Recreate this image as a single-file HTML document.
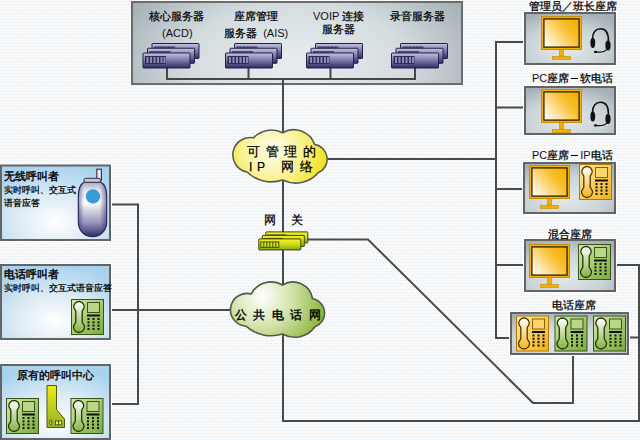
<!DOCTYPE html>
<html><head><meta charset="utf-8">
<style>
html,body{margin:0;padding:0;}
body{width:640px;height:440px;overflow:hidden;position:relative;background:#f6f9fb;font-family:"Liberation Sans",sans-serif;color:#111;}
svg.main{position:absolute;left:0;top:0;}
.t{position:absolute;white-space:nowrap;line-height:1;font-size:11px;font-weight:normal;color:#000;-webkit-text-stroke:0.25px #000;}
.n{font-weight:normal;-webkit-text-stroke:0;color:#111;}
</style></head><body>
<svg class="main" width="640" height="440" viewBox="0 0 640 440">
<defs>
  <pattern id="dots" width="3" height="6" patternUnits="userSpaceOnUse">
    <rect width="3" height="6" fill="#f9f9fa"/>
    <rect x="1" y="1" width="1" height="1" fill="#d6eaf7"/>
    <rect x="2" y="4" width="1" height="1" fill="#d6eaf7"/>
  </pattern>
  <radialGradient id="gPanel" cx="0.5" cy="0.75" r="0.6" gradientTransform="translate(0.5 0.75) scale(1 2.2) translate(-0.5 -0.75)">
    <stop offset="0" stop-color="#e8eef0"/>
    <stop offset="0.55" stop-color="#d4dce0"/>
    <stop offset="1" stop-color="#a3afb5"/>
  </radialGradient>
  <radialGradient id="gBox" cx="0.45" cy="0.7" r="0.75">
    <stop offset="0" stop-color="#e4eaec"/>
    <stop offset="0.6" stop-color="#c9d2d6"/>
    <stop offset="1" stop-color="#a4b0b6"/>
  </radialGradient>
  <radialGradient id="gBlue" cx="0.5" cy="0.75" r="0.75">
    <stop offset="0" stop-color="#ffffff"/>
    <stop offset="0.5" stop-color="#daeaf4"/>
    <stop offset="1" stop-color="#a9d2ee"/>
  </radialGradient>
  <linearGradient id="gSrv" x1="0" y1="0" x2="0" y2="1">
    <stop offset="0" stop-color="#c8c8e0"/>
    <stop offset="0.2" stop-color="#a6a4c8"/>
    <stop offset="0.6" stop-color="#6a6898"/>
    <stop offset="1" stop-color="#2c2a62"/>
  </linearGradient>
  <linearGradient id="gGw" x1="0" y1="0" x2="0" y2="1">
    <stop offset="0" stop-color="#f6f230"/>
    <stop offset="0.45" stop-color="#d8de14"/>
    <stop offset="1" stop-color="#84aa0c"/>
  </linearGradient>
  <radialGradient id="gCloudY" gradientUnits="userSpaceOnUse" cx="272" cy="150" r="58">
    <stop offset="0" stop-color="#fdfdf0"/>
    <stop offset="0.45" stop-color="#faf4a0"/>
    <stop offset="1" stop-color="#eee010"/>
  </radialGradient>
  <radialGradient id="gCloudG" gradientUnits="userSpaceOnUse" cx="262" cy="297" r="66">
    <stop offset="0" stop-color="#ffffff"/>
    <stop offset="0.45" stop-color="#d4e4ac"/>
    <stop offset="1" stop-color="#8ab030"/>
  </radialGradient>
  <linearGradient id="gScreen" x1="0" y1="0.85" x2="1" y2="0.15">
    <stop offset="0" stop-color="#fffcf2"/>
    <stop offset="0.28" stop-color="#fde2a0"/>
    <stop offset="0.65" stop-color="#f8c030"/>
    <stop offset="1" stop-color="#f4b000"/>
  </linearGradient>
  <linearGradient id="gPhG" x1="0" y1="0" x2="1" y2="1">
    <stop offset="0" stop-color="#d6eaa8"/>
    <stop offset="1" stop-color="#78ac38"/>
  </linearGradient>
  <linearGradient id="gPhO" x1="0" y1="0" x2="1" y2="1">
    <stop offset="0" stop-color="#ffeaa0"/>
    <stop offset="1" stop-color="#f2b01c"/>
  </linearGradient>
  <linearGradient id="gHand" x1="0" y1="0" x2="0" y2="1">
    <stop offset="0" stop-color="#ffffff"/>
    <stop offset="1" stop-color="#84b440"/>
  </linearGradient>
  <linearGradient id="gHandO" x1="0" y1="0" x2="0" y2="1">
    <stop offset="0" stop-color="#ffffff"/>
    <stop offset="1" stop-color="#f2b41c"/>
  </linearGradient>
  <linearGradient id="gCard" x1="0" y1="0" x2="0" y2="1">
    <stop offset="0" stop-color="#eeea10"/>
    <stop offset="1" stop-color="#94b42a"/>
  </linearGradient>
  <linearGradient id="gMobV" x1="0" y1="0" x2="0" y2="1">
    <stop offset="0" stop-color="#a8a8c4"/>
    <stop offset="0.15" stop-color="#e4e4ee"/>
    <stop offset="0.38" stop-color="#ffffff"/>
    <stop offset="0.52" stop-color="#d4d4e2"/>
    <stop offset="0.75" stop-color="#9492bc"/>
    <stop offset="1" stop-color="#2c2a66"/>
  </linearGradient>
  <linearGradient id="gMobH" x1="0" y1="0" x2="1" y2="0">
    <stop offset="0" stop-color="#302e70" stop-opacity="0.55"/>
    <stop offset="0.2" stop-color="#302e70" stop-opacity="0"/>
    <stop offset="0.75" stop-color="#302e70" stop-opacity="0"/>
    <stop offset="1" stop-color="#302e70" stop-opacity="0.6"/>
  </linearGradient>
  

  <g id="srv">
    <rect x="0.5" y="0.5" width="47" height="15" rx="0.6" fill="url(#gSrv)" stroke="#22204a" stroke-width="1"/>
    <rect x="2.5" y="3.5" width="21" height="8" fill="#2e2c5c"/>
    <rect x="4" y="4.5" width="2" height="6" fill="#8c8ab4"/>
    <rect x="7.5" y="4.5" width="2" height="6" fill="#8c8ab4"/>
    <rect x="11" y="4.5" width="2" height="6" fill="#8c8ab4"/>
    <rect x="14.5" y="4.5" width="2" height="6" fill="#8c8ab4"/>
    <rect x="18" y="4.5" width="2" height="6" fill="#8c8ab4"/>
    <rect x="21" y="4.5" width="2" height="6" fill="#8c8ab4"/>
  </g>
  <g id="srvs">
    <use href="#srv" x="9" y="-9.5"/>
    <use href="#srv" x="4.5" y="-4.75"/>
    <use href="#srv" x="0" y="0"/>
  </g>
  <g id="gw">
    <rect x="0.5" y="0.5" width="42" height="11" rx="0.5" fill="url(#gGw)" stroke="#3c4600" stroke-width="1"/>
    <rect x="2" y="3" width="19" height="6.5" fill="#4a5400"/>
    <rect x="3" y="4" width="2" height="4.5" fill="#d0dc30"/>
    <rect x="6" y="4" width="2" height="4.5" fill="#d0dc30"/>
    <rect x="9" y="4" width="2" height="4.5" fill="#d0dc30"/>
    <rect x="12" y="4" width="2" height="4.5" fill="#d0dc30"/>
    <rect x="15" y="4" width="2" height="4.5" fill="#d0dc30"/>
    <rect x="18" y="4" width="2" height="4.5" fill="#d0dc30"/>
  </g>

  <!-- green desk phone 33x35 -->
  <g id="phG">
    <rect x="0.5" y="0.5" width="32" height="35" fill="url(#gPhG)" stroke="#3c5020" stroke-width="1"/>
    <path d="M8 2.5 a5.2 5.2 0 0 1 5.2 5.2 c0 2.2 -1.6 3 -2 4.5 v11 c0.4 1.5 2.3 2.5 2.3 4.8 a5.5 5.5 0 0 1 -11 0 c0 -2.3 1.9 -3.3 2.3 -4.8 v-11 c-0.4 -1.5 -2 -2.3 -2 -4.5 a5.2 5.2 0 0 1 5.2 -5.2z" fill="url(#gHand)" stroke="#26340c" stroke-width="1.3"/>
    <rect x="16.5" y="3.5" width="12" height="10" fill="#b8d888" stroke="#3c5020" stroke-width="1"/>
    <rect x="16" y="15.5" width="13" height="2" fill="#111"/>
    <g fill="#111">
      <rect x="16.5" y="19" width="2" height="2"/><rect x="21.5" y="19" width="2" height="2"/><rect x="26.5" y="19" width="2" height="2"/>
      <rect x="16.5" y="22.3" width="2" height="2"/><rect x="21.5" y="22.3" width="2" height="2"/><rect x="26.5" y="22.3" width="2" height="2"/>
      <rect x="16.5" y="25.6" width="2" height="2"/><rect x="21.5" y="25.6" width="2" height="2"/><rect x="26.5" y="25.6" width="2" height="2"/>
      <rect x="16.5" y="29" width="2" height="2"/><rect x="21.5" y="29" width="2" height="2"/><rect x="26.5" y="29" width="2" height="2"/>
    </g>
  </g>
  <g id="phO">
    <rect x="0.5" y="0.5" width="32" height="35" fill="url(#gPhO)" stroke="#b07a00" stroke-width="1"/>
    <path d="M8 2.5 a5.2 5.2 0 0 1 5.2 5.2 c0 2.2 -1.6 3 -2 4.5 v11 c0.4 1.5 2.3 2.5 2.3 4.8 a5.5 5.5 0 0 1 -11 0 c0 -2.3 1.9 -3.3 2.3 -4.8 v-11 c-0.4 -1.5 -2 -2.3 -2 -4.5 a5.2 5.2 0 0 1 5.2 -5.2z" fill="url(#gHandO)" stroke="#503800" stroke-width="1.3"/>
    <rect x="16.5" y="3.5" width="12" height="10" fill="#fbd66a" stroke="#8a6000" stroke-width="1"/>
    <rect x="16" y="15.5" width="13" height="2" fill="#111"/>
    <g fill="#111">
      <rect x="16.5" y="19" width="2" height="2"/><rect x="21.5" y="19" width="2" height="2"/><rect x="26.5" y="19" width="2" height="2"/>
      <rect x="16.5" y="22.3" width="2" height="2"/><rect x="21.5" y="22.3" width="2" height="2"/><rect x="26.5" y="22.3" width="2" height="2"/>
      <rect x="16.5" y="25.6" width="2" height="2"/><rect x="21.5" y="25.6" width="2" height="2"/><rect x="26.5" y="25.6" width="2" height="2"/>
      <rect x="16.5" y="29" width="2" height="2"/><rect x="21.5" y="29" width="2" height="2"/><rect x="26.5" y="29" width="2" height="2"/>
    </g>
  </g>
  <!-- monitor 41 x 44 -->
  <g id="mon">
    <rect x="0.5" y="0.5" width="40" height="33" fill="#f5b200" stroke="#d08c00" stroke-width="1"/>
    <rect x="2.9" y="2.9" width="35.2" height="28.2" fill="url(#gScreen)" stroke="#2c1e00" stroke-width="1.3"/>
    <rect x="18.5" y="33.5" width="4" height="6.5" fill="#f4b000" stroke="#c88a00" stroke-width="0.6"/>
    <rect x="11.5" y="40.5" width="18" height="3" fill="#f4b000" stroke="#c88a00" stroke-width="0.6"/>
  </g>
  <g id="hs">
    <path d="M1.5 11 C1.5 4 5 0.8 9.5 0.8 C14 0.8 17.5 4.5 17.5 13" fill="none" stroke="#111" stroke-width="1.6"/>
    <ellipse cx="1.8" cy="15" rx="2.4" ry="5" fill="#111"/>
    <ellipse cx="17" cy="17.5" rx="2.6" ry="5" fill="#111"/>
    <path d="M15.5 21.5 C14 24 10 24.5 5 24" fill="none" stroke="#111" stroke-width="1.2"/>
    <ellipse cx="4.6" cy="23.9" rx="1.8" ry="1.2" fill="#111"/>
  </g>
</defs>

<rect width="640" height="440" fill="url(#dots)"/>

<!-- ===== lines ===== -->
<g fill="none" stroke="#4a4a4a" stroke-width="2">
  <path d="M167 66 V79 H415 V66"/>
  <path d="M248.5 66 V79"/>
  <path d="M330.5 66 V79"/>
  <path d="M283 79 V421 H640"/>
  <path d="M525 42 H496 V338 H512"/>
  <path d="M496 107.5 H525"/>
  <path d="M496 189 H524"/>
  <path d="M496 265 H525"/>
  <path d="M616 265 H639 V421"/>
  <path d="M627 337.5 H639"/>
  <path d="M320 159 H496"/>
  <path d="M300 239.5 H368 L533 403 H573 V353"/>
  <path d="M110 204.5 H138 V404 H109"/>
  <path d="M110 310 H240"/>
</g>

<!-- ===== top panel ===== -->
<rect x="132" y="2" width="330" height="82" fill="url(#gPanel)" stroke="#6c6c6c" stroke-width="2"/>
<path d="M167 66 V79 H415 V66 M248.5 66 V79 M330.5 66 V79 M283 79 V86" fill="none" stroke="#454545" stroke-width="2"/>
<use href="#srvs" x="142.5" y="52.5"/>
<use href="#srvs" x="225" y="52.5"/>
<use href="#srvs" x="306" y="52.5"/>
<use href="#srvs" x="391" y="52.5"/>

<!-- ===== right column boxes ===== -->
<rect x="525" y="13" width="90" height="51" fill="none" stroke="#ffffff" stroke-width="4"/>
<rect x="525" y="13" width="90" height="51" fill="url(#gBox)" stroke="#646464" stroke-width="2"/>
<use href="#mon" x="541" y="16"/>
<use href="#hs" transform="translate(591 28)"/>

<rect x="525" y="87" width="90" height="47" fill="none" stroke="#ffffff" stroke-width="4"/>
<rect x="525" y="87" width="90" height="47" fill="url(#gBox)" stroke="#646464" stroke-width="2"/>
<use href="#mon" x="541" y="89"/>
<use href="#hs" transform="translate(591 101.5)"/>

<rect x="524" y="163" width="91" height="50" fill="none" stroke="#ffffff" stroke-width="4"/>
<rect x="524" y="163" width="91" height="50" fill="url(#gBox)" stroke="#646464" stroke-width="2"/>
<use href="#mon" x="529" y="165"/>
<use href="#phO" x="579" y="164"/>

<rect x="525" y="240" width="90" height="51" fill="none" stroke="#ffffff" stroke-width="4"/>
<rect x="525" y="240" width="90" height="51" fill="url(#gBox)" stroke="#646464" stroke-width="2"/>
<use href="#mon" x="529" y="244"/>
<use href="#phG" x="578" y="244"/>

<rect x="511" y="313" width="117" height="41" fill="none" stroke="#ffffff" stroke-width="4"/>
<rect x="511" y="313" width="117" height="41" fill="url(#gBox)" stroke="#646464" stroke-width="2"/>
<use href="#phO" x="516" y="315.5"/>
<use href="#phG" x="554.5" y="315.5"/>
<use href="#phG" x="593" y="315.5"/>

<!-- ===== left boxes ===== -->
<rect x="1" y="165.5" width="109" height="74.5" fill="none" stroke="#ffffff" stroke-width="4"/>
<rect x="1" y="165.5" width="109" height="74.5" fill="url(#gBlue)" stroke="#646464" stroke-width="2"/>
<rect x="96.8" y="169.2" width="4.6" height="11" fill="#e4e4ec" stroke="#303040" stroke-width="1.1"/>
<rect x="98.6" y="170.5" width="1.2" height="8.5" fill="#ffffff"/>
<path d="M84.5 182 C80.5 184 78.3 189 78.3 196 V222.5 A14.2 14.2 0 0 0 106.7 222.5 V196 C106.7 189 104.5 184 100.5 182 Z" fill="url(#gMobV)" stroke="#22204a" stroke-width="1.1"/>
<path d="M84.5 182 C80.5 184 78.3 189 78.3 196 V222.5 A14.2 14.2 0 0 0 106.7 222.5 V196 C106.7 189 104.5 184 100.5 182 Z" fill="url(#gMobH)"/>
<rect x="84" y="178.3" width="16.5" height="4" rx="1.5" fill="#c4c4d4" stroke="#303048" stroke-width="1"/>
<circle cx="93" cy="196.5" r="7.2" fill="#3b9bd9"/>

<rect x="1" y="265" width="109" height="74" fill="none" stroke="#ffffff" stroke-width="4"/>
<rect x="1" y="265" width="109" height="74" fill="url(#gBlue)" stroke="#646464" stroke-width="2"/>
<use href="#phG" x="71" y="299"/>

<rect x="1" y="365" width="109" height="74" fill="none" stroke="#ffffff" stroke-width="4"/>
<rect x="1" y="365" width="109" height="74" fill="url(#gBlue)" stroke="#646464" stroke-width="2"/>
<use href="#phG" x="6" y="398"/>
<use href="#phG" x="70.5" y="398"/>
<path d="M47 385.5 H56.5 V409.5 L64.5 419 V427.5 H47Z" fill="url(#gCard)" stroke="#4a5a10" stroke-width="1"/>
<rect x="49.8" y="419.8" width="2" height="5" rx="1" fill="#d8d880" stroke="#3a4210" stroke-width="0.8"/>
<rect x="55.5" y="421" width="3" height="3.8" fill="#f4f070" stroke="#3a4210" stroke-width="0.8"/>
<rect x="58.5" y="421" width="3" height="3.8" fill="#f4f070" stroke="#3a4210" stroke-width="0.8"/>

<!-- ===== gateway ===== -->
<use href="#gw" x="265.3" y="231.4"/>
<use href="#gw" x="261.8" y="234.9"/>
<use href="#gw" x="258.3" y="238.4"/>

<!-- ===== clouds ===== -->
<path d="M282.6 132.7 A22.2 22.2 0 0 1 314.6 144.4 A14.9 14.9 0 0 1 318.2 172.8 A29.7 29.7 0 0 1 282.6 180.0 A35.2 35.2 0 0 1 247.0 172.0 A17.4 17.4 0 0 1 253.5 137.8 A24.8 24.8 0 0 1 282.6 132.7Z" fill="url(#gCloudY)" stroke="#5a5a50" stroke-width="1.6"/>
<path d="M282.6 285.0 A19.8 19.8 0 0 1 312.5 298.5 A14.8 14.8 0 0 1 314.7 327.0 A24.5 24.5 0 0 1 282.6 334.0 A38.0 38.0 0 0 1 246.0 326.2 A16.4 16.4 0 1 1 251.2 294.0 A22.6 22.6 0 0 1 282.6 285.0Z" fill="url(#gCloudG)" stroke="#505a48" stroke-width="1.6"/>
</svg>

<!-- ===== texts ===== -->
<div class="t" style="left:149px;top:11px;">核心服务器</div>
<div class="t" style="left:162px;top:28px;"><span class="n">(ACD)</span></div>
<div class="t" style="left:234px;top:11px;">座席管理</div>
<div class="t" style="left:224px;top:28px;">服务器&nbsp;&nbsp;<span class="n">(AIS)</span></div>
<div class="t" style="left:313px;top:11px;"><span class="n">VOIP</span>&nbsp;连接</div>
<div class="t" style="left:322px;top:24px;">服务器</div>
<div class="t" style="left:390px;top:11px;">录音服务器</div>

<div class="t" style="left:529px;top:1px;">管理员／班长座席</div>
<div class="t" style="left:532px;top:73px;"><span class="n">PC</span>座席<span style="display:inline-block;width:7px;height:1px;background:#000;margin:0 2px;vertical-align:3.5px"></span>软电话</div>
<div class="t" style="left:532px;top:150px;"><span class="n">PC</span>座席<span style="display:inline-block;width:7px;height:1px;background:#000;margin:0 2px;vertical-align:3.5px"></span><span class="n">IP</span>电话</div>
<div class="t" style="left:548px;top:229px;">混合座席</div>
<div class="t" style="left:552px;top:300px;">电话座席</div>

<div class="t" style="left:4px;top:171px;font-size:11px;-webkit-text-stroke:0.4px #000;">无线呼叫者</div>
<div class="t" style="left:4px;top:186px;font-size:9px;">实时呼叫、交互式</div>
<div class="t" style="left:4px;top:199px;font-size:9px;">语音应答</div>
<div class="t" style="left:4px;top:269px;font-size:11px;-webkit-text-stroke:0.4px #000;">电话呼叫者</div>
<div class="t" style="left:4px;top:284px;font-size:8.6px;">实时呼叫、交互式语音应答</div>
<div class="t" style="left:17px;top:370px;-webkit-text-stroke:0.35px #000;">原有的呼叫中心</div>

<div class="t" style="left:247px;top:146px;font-size:12.5px;letter-spacing:5.5px;font-weight:normal;color:#000;">可管理的</div>
<div class="t" style="left:249px;top:161px;font-size:12px;font-weight:normal;color:#000;">I</div>
<div class="t" style="left:257px;top:161px;font-size:12px;font-weight:normal;color:#000;">P</div>
<div class="t" style="left:281px;top:161px;font-size:12.5px;letter-spacing:5.5px;font-weight:normal;color:#000;">网络</div>
<div class="t" style="left:264px;top:214px;font-size:12px;font-weight:normal;color:#000;">网</div>
<div class="t" style="left:291px;top:214px;font-size:12px;font-weight:normal;color:#000;">关</div>
<div class="t" style="left:235px;top:309px;font-size:12px;letter-spacing:6.4px;color:#000;-webkit-text-stroke:0.4px #000;">公共电话网</div>
</body></html>
